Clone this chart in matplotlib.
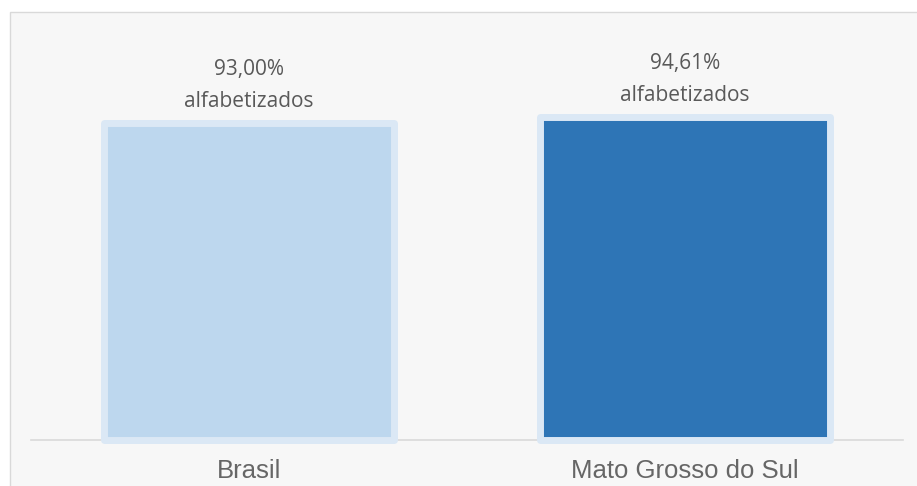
import matplotlib.pyplot as plt
from matplotlib.patches import Rectangle

categories = ['Brasil', 'Mato Grosso do Sul']
values = [93.00, 94.61]
labels = ['93,00%\nalfabetizados', '94,61%\nalfabetizados']
colors = ['#bdd7ee', '#2e75b6']


def main():
    W, H = 917, 486
    fig = plt.figure(figsize=(W / 100, H / 100), dpi=100)
    fig.patch.set_facecolor('white')

    # light grey panel behind the chart
    panel = Rectangle((10 / W, -0.01), 1.0, (H - 12) / H + 0.01,
                      transform=fig.transFigure, facecolor='#f7f7f7',
                      edgecolor='#d9d9d9', linewidth=1.0, zorder=-5)
    fig.patches.append(panel)

    ax = fig.add_axes([31 / W, 46 / H, 872 / W, 341 / H])
    ax.set_facecolor('none')
    ax.set_zorder(2)

    x = list(range(len(categories)))
    bars = ax.bar(x, values, width=0.665, color=colors,
                  edgecolor='#dbe8f5', linewidth=5.0, clip_on=False, zorder=3)
    for b in bars:
        b.set_joinstyle('round')

    for xi, v, lab in zip(x, values, labels):
        ax.annotate(lab, (xi, v), xytext=(0, 8), textcoords='offset points',
                    ha='center', va='bottom', fontsize=15,
                    family='Open Sans', color='#595959', linespacing=1.7)

    ax.set_xlim(-0.5, 1.5)
    ax.set_ylim(0, 100)
    ax.set_xticks(x)
    ax.set_xticklabels(categories, fontsize=18.5, family='Liberation Sans',
                       color='#666666')
    ax.tick_params(axis='x', length=0, pad=14)
    ax.set_yticks([])
    for s in ['top', 'right', 'left']:
        ax.spines[s].set_visible(False)
    ax.spines['bottom'].set_color('#d9d9d9')
    ax.spines['bottom'].set_linewidth(1.2)
    ax.spines['bottom'].set_zorder(1)

    plt.savefig('out.png', dpi=100)


if __name__ == '__main__':
    main()
